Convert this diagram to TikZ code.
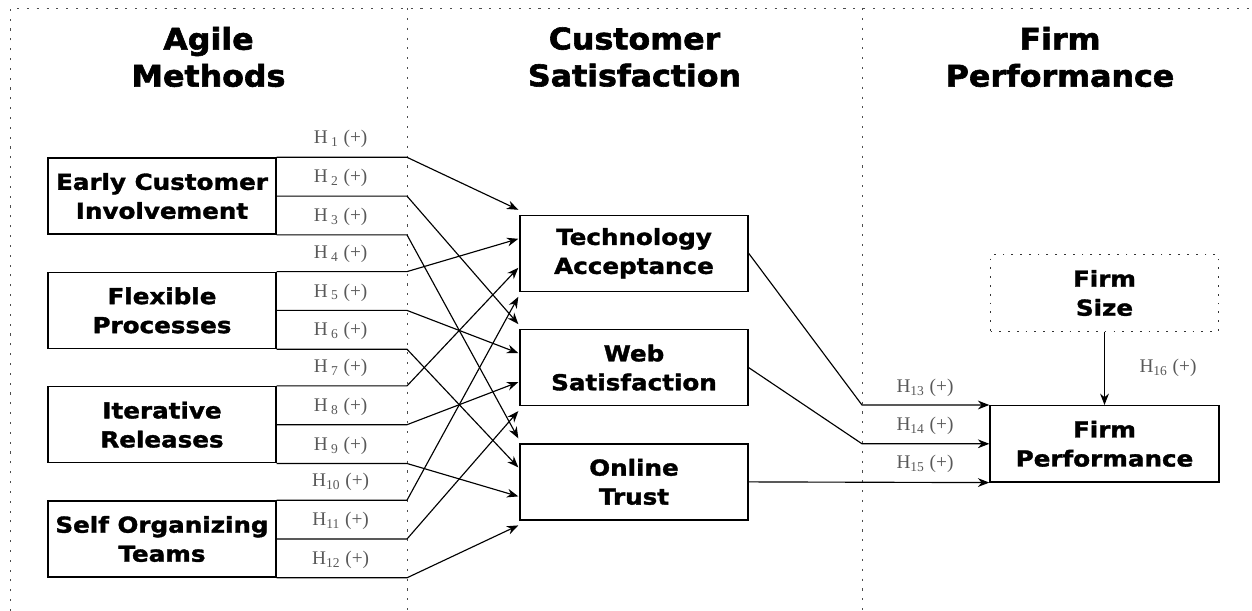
\documentclass[tikz,border=0pt]{standalone}
\usepackage{fontspec}
\setmainfont{Liberation Serif}
\newfontfamily\boxfont{DejaVu Sans}[FakeStretch=1.12,FakeBold=1.6]
\newfontfamily\headfont{DejaVu Sans}[FakeStretch=1.06,FakeBold=2]
\usepackage{tikz}
\usetikzlibrary{arrows.meta,calc}

% hypothesis label, e.g. H_3 (+)
\newcommand{\hyp}[1]{H\ifnum#1<10\,\fi\textsubscript{#1} (+)}

\begin{document}
\begin{tikzpicture}[x=0.02cm, y=-0.02cm,
  frame/.style={black!70, line width=0.5pt, dash pattern=on 1.2pt off 4.4pt},
  head/.style={align=center, font=\headfont\bfseries\fontsize{17}{21}\selectfont},
  construct/.style={draw, line width=0.8pt, minimum width=4.56cm, minimum height=1.524cm,
    align=center, font=\boxfont\bfseries\fontsize{12.5}{16.5}\selectfont},
  control/.style={construct, draw=black!80, line width=0.6pt, dash pattern=on 1pt off 4pt},
  hlabel/.style={text=black!65, font=\fontsize{11}{12}\selectfont, inner sep=1pt},
  conn/.style={line width=0.65pt},
  arrow/.style={conn, -{Stealth[length=6.5pt,width=5pt]}}]
\useasboundingbox (0,0) rectangle (1252,611);

%draw frame and column separators
\coordinate (sepA) at (407,8);
\coordinate (sepB) at (862,8);
\draw[frame] (10,611) -- (10,8) -- (1252,8);
\draw[frame] (sepA) -- (407,611);
\draw[frame] (sepB) -- (862,611);

%draw column headings
\node[head] (hagile) at (208.5,57) {Agile\\Methods};
\node[head] (hcust) at (634.5,57) {Customer\\Satisfaction};
\node[head] (hfirm) at (1060,57) {Firm\\Performance};

%draw agile method boxes
\node[construct] (meth0) at (162,196.1) {Early Customer\\Involvement};
\node[construct] (meth1) at (162,310.4) {Flexible\\Processes};
\node[construct] (meth2) at (162,424.7) {Iterative\\Releases};
\node[construct] (meth3) at (162,539.0) {Self Organizing\\Teams};

%draw customer satisfaction boxes
\node[construct] (tech) at (634,253.3) {Technology\\Acceptance};
\node[construct] (web) at (634,367.6) {Web\\Satisfaction};
\node[construct] (trust) at (634,481.9) {Online\\Trust};

%draw firm boxes
\node[control] (size) at (1104.5,293) {Firm\\Size};
\node[construct, minimum width=4.58cm] (perf) at (1104.5,443.8) {Firm\\Performance};

%draw H1 - H12
\foreach \b in {0,...,3}
  \foreach \j/\anc/\dst in {1/north east/tech, 2/east/web, 3/south east/trust} {
    \pgfmathtruncatemacro\n{3*\b+\j}
    \node[hlabel] (h\n) at ($(meth\b.\anc)+(64,-18)$) {\hyp{\n}};
    \draw[arrow] (meth\b.\anc) -- (sepA |- meth\b.\anc)
      -- ($(\dst.west)+(-1,29*\b-43.5)$);
  }

%draw H13 - H15
\draw[arrow] (tech.east) -- (sepB |- perf.north west) -- (perf.north west);
\draw[arrow] (web.east) -- (sepB |- perf.west) -- (perf.west);
\draw[arrow] (trust.east) -- (perf.south west);
\node[hlabel] (h13) at (925,388) {\hyp{13}};
\node[hlabel] (h14) at (925,425.5) {\hyp{14}};
\node[hlabel] (h15) at (925,463.5) {\hyp{15}};

%draw H16
\draw[arrow] (size) -- (perf);
\node[hlabel] (h16) at (1168,368) {\hyp{16}};
\end{tikzpicture}
\end{document}
